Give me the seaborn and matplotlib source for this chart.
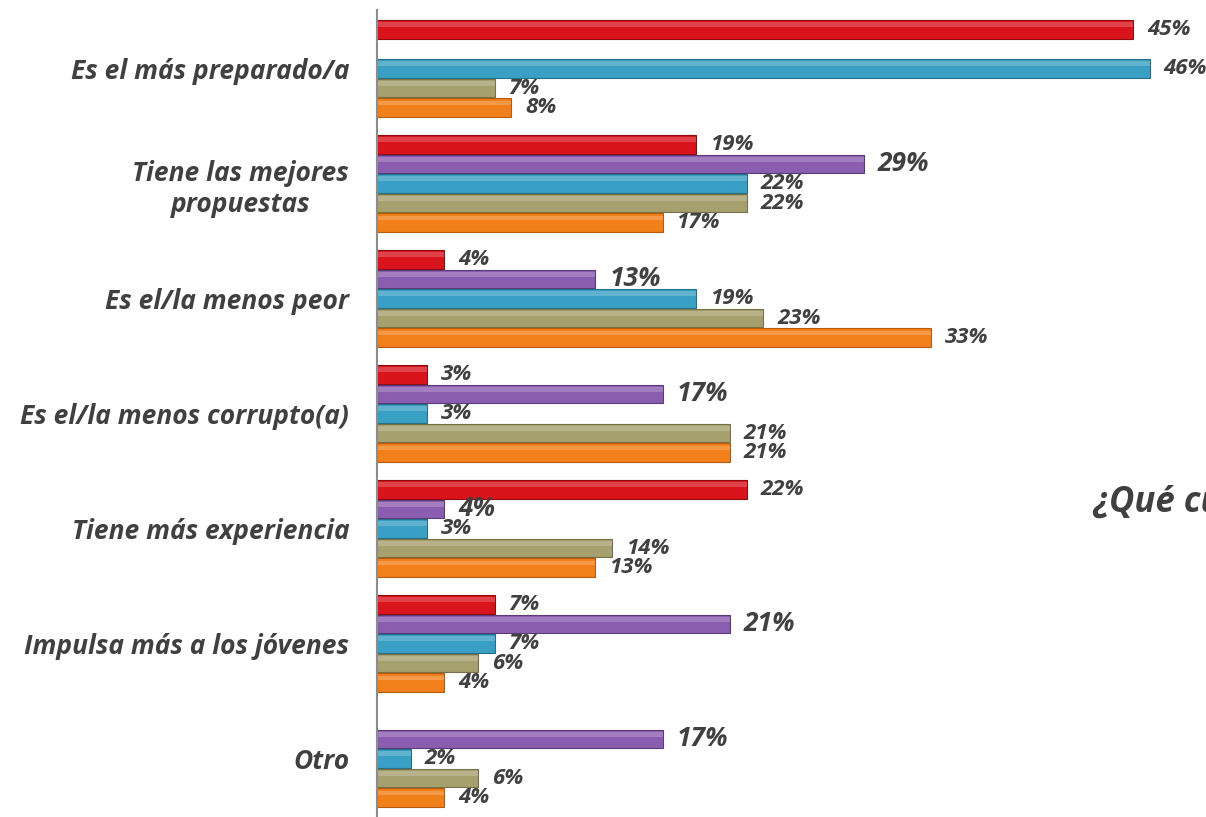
import numpy as np
import pandas as pd
import seaborn as sns
import matplotlib.pyplot as plt
from matplotlib.patches import Rectangle

categorias = [
    "Es el más preparado/a",
    "Tiene las mejores\npropuestas",
    "Es el/la menos peor",
    "Es el/la menos corrupto(a)",
    "Tiene más experiencia",
    "Impulsa más a los jóvenes",
    "Otro",
]
series = ["s1", "s2", "s3", "s4", "s5"]
rojo = [45, 19, 4, 3, 22, 7, np.nan]
morado = [np.nan, 29, 13, 17, 4, 21, 17]
azul = [46, 22, 19, 3, 3, 7, 2]
beige = [7, 22, 23, 21, 14, 6, 6]
naranja = [8, 17, 33, 21, 13, 4, 4]
colores = ["#D9141C", "#8B5DB0", "#3A9FC4", "#A6A06E", "#F2801A"]
bordes = ["#8E0B10", "#5B3A78", "#22708C", "#76714A", "#B65A0C"]

rows = []
for s, vals in zip(series, [rojo, morado, azul, beige, naranja]):
    for c, v in zip(categorias, vals):
        if not np.isnan(v):
            rows.append({"categoria": c, "serie": s, "valor": v})
df = pd.DataFrame(rows)

sns.set_style("white")
plt.rcParams["font.family"] = ["Open Sans", "DejaVu Sans"]
texto = "#404040"

fig = plt.figure(figsize=(12.06, 8.17), dpi=100)
ax = fig.add_axes([377 / 1206, 0, 829 / 1206, 807 / 817])

sns.barplot(data=df, y="categoria", x="valor", hue="serie", order=categorias,
            hue_order=series, palette=colores, saturation=1, orient="h",
            width=0.85, gap=0.05, errorbar=None, legend=False, ax=ax)

# leve efecto de brillo en la parte superior de cada barra
for cont, borde in zip(ax.containers, bordes):
    for p in cont.patches:
        p.set_edgecolor(borde)
        p.set_linewidth(0.8)
        x0, y0 = p.get_x(), p.get_y()
        w, h = p.get_width(), p.get_height()
        ax.add_patch(Rectangle((x0, y0 + h * 0.12), w, h * 0.25, color="white",
                               alpha=0.2, lw=0, zorder=p.get_zorder() + 0.1))

for i, cont in enumerate(ax.containers):
    size = 19 if i == 1 else 16
    labels = ax.bar_label(cont, labels=[f"{int(v)}%" for v in cont.datavalues],
                          padding=10, fontsize=size, fontstyle="italic",
                          fontweight="bold", color=texto, clip_on=False)
    for t in labels:
        t.set_va("center")

ax.set_xlim(0, 829 / 16.8)
ax.set_ylim(6.509, -0.509)
ax.set_xlabel("")
ax.set_ylabel("")
ax.set_xticks([])
ax.tick_params(axis="y", length=0, pad=20)
for t in ax.get_yticklabels():
    t.set_fontsize(19)
    t.set_fontstyle("italic")
    t.set_fontweight("bold")
    t.set_color(texto)
    t.set_multialignment("center")

for s in ["top", "right", "bottom"]:
    ax.spines[s].set_visible(False)
ax.spines["left"].set_color("#8C8C8C")
ax.spines["left"].set_linewidth(1.5)

fig.text(1093 / 1206, 1 - 503 / 817, "¿Qué cualidad", fontsize=25,
         fontstyle="italic", fontweight="bold", color=texto, va="center")

fig.savefig("out.png", dpi=100)
